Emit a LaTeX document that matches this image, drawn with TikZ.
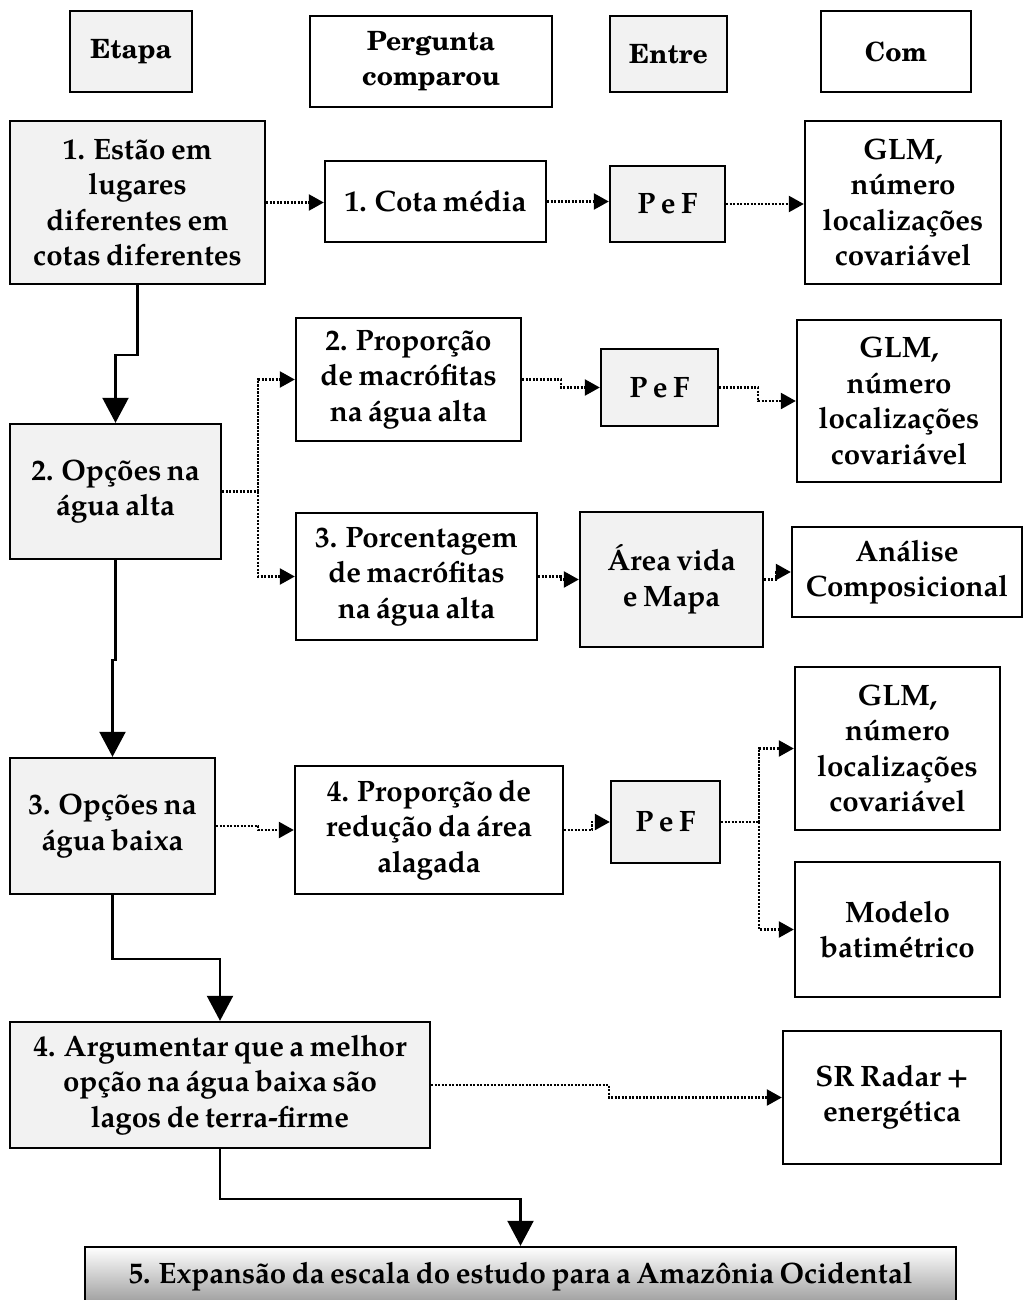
\documentclass[tikz,border=0pt]{standalone}
\usepackage{fontspec}
\newfontfamily\palfont{texgyrepagella}[Extension=.otf,UprightFont=*-regular,BoldFont=*-bold,WordSpace=0.75]
\newfontfamily\schfont{texgyreschola}[Extension=.otf,UprightFont=*-regular,BoldFont=*-bold]
\usetikzlibrary{arrows.meta}
\definecolor{boxgray}{HTML}{F2F2F2}
\newcommand\mybody{\palfont\bfseries\fontsize{29.5}{35.5}\selectfont}
\newcommand\myhead{\schfont\bfseries\fontsize{26.5}{35}\selectfont}
\tikzset{
  box/.style={draw=black, line width=2.4pt, inner sep=0pt, align=center, font=\mybody},
  gbox/.style={box, fill=boxgray},
  wbox/.style={box, fill=white},
  hgbox/.style={gbox, font=\myhead},
  hwbox/.style={wbox, font=\myhead},
  solidarr/.style={line width=2.2pt, -{Triangle[width=26pt,length=25pt]}},
  dotline/.style={line width=2.4pt, dash pattern=on 2.2pt off 1.3pt},
  dotarr/.style={dotline, -{Triangle[width=16pt,length=15pt]}},
}
\begin{document}
\begin{tikzpicture}[x=1pt,y=-1pt]
\useasboundingbox (0,0) rectangle (1026,1300);
% headers
\node[hgbox, minimum width=122pt, minimum height=81pt] (hEtapa) at (131,51.5) {Etapa};
\node[hwbox, minimum width=242pt, minimum height=91pt] (hPerg) at (431,61.5) {Pergunta\\comparou};
\node[hgbox, minimum width=117pt, minimum height=76pt] (hEntre) at (668.5,54) {Entre};
\node[hwbox, minimum width=150pt, minimum height=81pt] (hCom) at (896,51.5) {Com};
% row 1
\node[gbox, minimum width=255pt, minimum height=163pt] (s1) at (137.5,202.5) {1. Estão em\\lugares\\diferentes em\\cotas diferentes};
\node[wbox, minimum width=221pt, minimum height=81pt] (q1) at (435.5,201.5) {1. Cota média};
\node[gbox, minimum width=115pt, minimum height=76pt] (e1) at (667.5,204) {P e F};
\node[wbox, minimum width=196pt, minimum height=163pt] (c1) at (903,202.5) {GLM,\\número\\localizações\\covariável};
% row 2
\node[gbox, minimum width=211pt, minimum height=135pt] (s2) at (115.5,491.5) {2. Opções na\\água alta};
\node[wbox, minimum width=225pt, minimum height=123pt] (q2) at (408.5,379.5) {2. Proporção\\de macrófitas\\na água alta};
\node[gbox, minimum width=117pt, minimum height=77pt] (e2) at (659.5,387.5) {P e F};
\node[wbox, minimum width=204pt, minimum height=162pt] (c2) at (899,401) {GLM,\\número\\localizações\\covariável};
\node[wbox, minimum width=241pt, minimum height=127pt] (q3) at (416.5,576.5) {3. Porcentagem\\de macrófitas\\na água alta};
\node[gbox, minimum width=183pt, minimum height=135pt] (e3) at (671.5,579.5) {Área vida\\e Mapa};
\node[wbox, minimum width=230pt, minimum height=90pt] (c3) at (907,572) {Análise\\Composicional};
% row 3
\node[gbox, minimum width=205pt, minimum height=136pt] (s3) at (112.5,826) {3. Opções na\\água baixa};
\node[wbox, minimum width=268pt, minimum height=128pt] (q4) at (429,830) {4. Proporção de\\redução da área\\alagada};
\node[gbox, minimum width=109pt, minimum height=82pt] (e4) at (665.5,822) {P e F};
\node[wbox, minimum width=205pt, minimum height=163pt] (c4) at (897.5,748.5) {GLM,\\número\\localizações\\covariável};
\node[wbox, minimum width=205pt, minimum height=135pt] (c5) at (897.5,929.5) {Modelo\\batimétrico};
% row 4
\node[gbox, minimum width=420pt, minimum height=126pt] (s4) at (220,1085) {4. Argumentar que a melhor\\opção na água baixa são\\lagos de terra-firme};
\node[wbox, minimum width=218pt, minimum height=133pt] (c6) at (892,1097.5) {SR Radar +\\energética};
% row 5
\node[box, top color=white, bottom color=black!40, minimum width=871pt, minimum height=59pt] (s5) at (520.5,1276.5) {5. Expansão da escala do estudo para a Amazônia Ocidental};
% solid connectors
\draw[solidarr] (s1.south) -- ++(0,70) -| (s2.north);
\draw[solidarr] (s2.south) -- ++(0,100) -| (s3.north);
\draw[solidarr] (s3.south) -- ++(0,64) -| (s4.north);
\draw[solidarr] (s4.south) -- ++(0,50) -| (s5.north);
% dotted connectors
\draw[dotarr] (s1.east) -- (s1.east -| q1.west);
\draw[dotarr] (q1.east) -- (q1.east -| e1.west);
\draw[dotarr] (e1.east) -- (e1.east -| c1.west);
\draw[dotline] (s2.east) -- ++(36,0) coordinate (b2);
\draw[dotarr] (b2) |- (q2.west);
\draw[dotarr] (b2) |- (q3.west);
\draw[dotarr] (q2.east) -- ++(39,0) |- (e2.west);
\draw[dotarr] (e2.east) -- ++(39,0) |- (c2.west);
\draw[dotarr] (q3.east) -- ++(23,0) |- (e3.west);
\draw[dotarr] (e3.east) -- ++(12,0) |- (c3.west);
\draw[dotarr] (s3.east) -- ++(42,0) |- (q4.west);
\draw[dotarr] (q4.east) -- ++(28,0) |- (e4.west);
\draw[dotline] (e4.east) -- ++(38,0) coordinate (b4);
\draw[dotarr] (b4) |- (c4.west);
\draw[dotarr] (b4) |- (c5.west);
\draw[dotarr] (s4.east) -- ++(178,0) |- (c6.west);
\end{tikzpicture}
\end{document}
